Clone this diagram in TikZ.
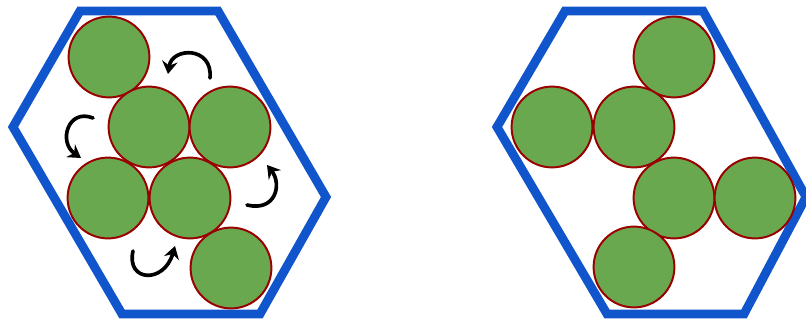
\documentclass[tikz,border=0pt]{standalone}
\usepackage{tikz}
\usetikzlibrary{arrows.meta}

\definecolor{hexblue}{HTML}{1155CC}
\definecolor{ballgreen}{HTML}{6AA84F}
\definecolor{balledge}{HTML}{990000}

\tikzset{
    hexwall/.style={draw=hexblue, line width=6.3pt, line join=miter},
    ball/.style={draw=balledge, fill=ballgreen, circle, line width=1.4pt, minimum size=2.02cm, inner sep=0pt},
    spin/.style={black, line width=2.6pt, line cap=round, -{Stealth[length=9pt, width=11pt, inset=3pt]}}
}

\begin{document}
\begin{tikzpicture}[x=0.025cm, y=-0.025cm]
            \useasboundingbox (0,0) rectangle (806,323);

            % Left hexagon
            \draw[hexwall] (80,11) -- (218,11) -- (326,197) -- (260,314) -- (122,314) -- (13,127) -- cycle;

            % Right hexagon
            \draw[hexwall] (565,11) -- (703,11) -- (806,197) -- (744,314) -- (607,314) -- (497,127) -- cycle;

            % Balls, left
            \foreach \n/\x/\y in {1/109/57, 2/149/127, 3/230/127, 4/108/198, 5/190/198, 6/231/268} {
                \node[ball] (L\n) at (\x,\y) {};
            }

            % Balls, right
            \foreach \n/\x/\y in {1/674/57, 2/552/127, 3/634/127, 4/674/198, 5/755/198, 6/634/267} {
                \node[ball] (R\n) at (\x,\y) {};
            }

            % Turning arrows
            \draw[spin] (210,78) .. controls (213,46) and (172,47) .. (168,74);
            \draw[spin] (93,118) .. controls (68,108) and (58,142) .. (81,158);
            \draw[spin] (247,205) .. controls (276,212) and (282,184) .. (267,165);
            \draw[spin] (133,251) .. controls (126,282) and (164,284) .. (175,246);
\end{tikzpicture}
\end{document}
